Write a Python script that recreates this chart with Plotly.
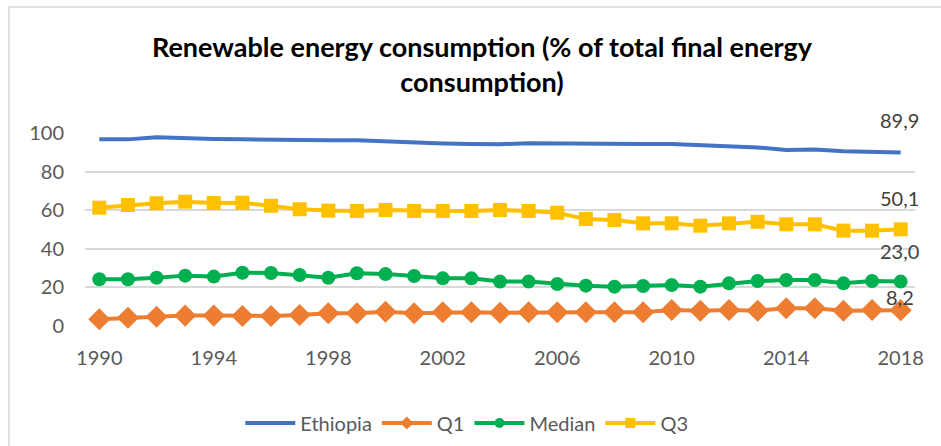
import plotly.graph_objects as go

years = list(range(1990, 2019))

ethiopia = [96.7, 96.7, 97.8, 97.2, 96.9, 96.7, 96.4, 96.2, 96.2, 96.2,
            95.5, 94.8, 94.6, 94.3, 94.2, 94.7, 94.5, 94.2, 94.0, 94.3,
            94.3, 93.6, 93.4, 92.5, 91.2, 91.5, 90.5, 90.1, 89.9]
q1 = [3.5, 4.3, 4.8, 5.4, 5.4, 5.2, 5.2, 5.7, 6.6, 6.6,
      7.4, 6.6, 7.1, 7.1, 6.9, 7.1, 7.1, 7.1, 7.1, 7.1,
      8.3, 7.9, 8.3, 7.9, 9.2, 9.2, 7.9, 8.3, 8.2]
median = [24.2, 24.2, 25.0, 26.1, 25.6, 27.6, 27.5, 26.4, 25.0, 27.3,
          26.9, 25.9, 24.7, 24.7, 23.0, 23.0, 21.8, 20.9, 20.4, 20.7,
          21.2, 20.4, 22.1, 23.3, 23.8, 23.8, 22.1, 23.3, 23.0]
q3 = [61.3, 62.7, 63.6, 64.4, 63.7, 63.9, 62.3, 60.5, 59.8, 59.6,
      60.1, 59.6, 59.6, 59.6, 60.1, 59.6, 58.7, 55.4, 54.9, 53.2,
      53.2, 52.0, 53.2, 54.0, 52.7, 52.7, 49.4, 49.4, 50.1]

x_ticks = [1990, 1994, 1998, 2002, 2006, 2010, 2014, 2018]
y_ticks = [0, 20, 40, 60, 80, 100]

FONT = "Lato"
TEXT = "#595959"

series = [
    ("Ethiopia", ethiopia, "#4472C4", None, 0),
    ("Q1", q1, "#ED7D31", "diamond", 17),
    ("Median", median, "#00B050", "circle", 14),
    ("Q3", q3, "#FFC000", "square", 14),
]

fig = go.Figure()

for name, values, color, symbol, size in series:
    mode = "lines" if symbol is None else "lines+markers"
    fig.add_trace(go.Scatter(
        x=years, y=values, name=name, mode=mode, showlegend=False,
        line=dict(color=color, width=4),
        marker=dict(symbol=symbol or "circle", size=size, color=color),
        cliponaxis=False))

# legend entries with smaller symbols
for name, values, color, symbol, size in series:
    mode = "lines" if symbol is None else "lines+markers"
    fig.add_trace(go.Scatter(
        x=[None], y=[None], name=name, mode=mode,
        line=dict(color=color, width=4),
        marker=dict(symbol=symbol or "circle", size=10, color=color)))

# value labels for the last year of each series
last = [(ethiopia[-1], 32), (q3[-1], 31), (median[-1], 31), (q1[-1], 13)]
for val, shift in last:
    fig.add_annotation(x=years[-1], y=val, text=f"{val:.1f}".replace(".", ","),
                       showarrow=False, yshift=shift, xshift=-1,
                       font=dict(family=FONT, size=20, color="#404040"))

# chart title
fig.add_annotation(xref="paper", yref="paper", x=(482 - 85) / 830, y=1.36,
                   xanchor="center", yanchor="middle", showarrow=False,
                   text="<b>Renewable energy consumption (% of total final energy<br>consumption)</b>",
                   font=dict(family=FONT, size=27, color="black"))

# light frame around the chart area
fig.add_shape(type="rect", xref="paper", yref="paper",
              x0=-0.0916, y0=-1.0, x1=1.2, y1=1.653,
              line=dict(color="#D9D9D9", width=1.5), layer="below")

fig.update_layout(
    width=941, height=446,
    margin=dict(l=85, r=26, t=133, b=120, autoexpand=False),
    paper_bgcolor="white", plot_bgcolor="white",
    font=dict(family=FONT, size=20, color=TEXT),
    xaxis=dict(range=[1989.5, 2018.5], tickmode="array", tickvals=x_ticks,
               showgrid=False, zeroline=False, showline=False, ticks="",
               ticklabelstandoff=18, tickfont=dict(size=20, color=TEXT)),
    yaxis=dict(range=[0, 100], tickmode="array", tickvals=y_ticks,
               showgrid=True, gridcolor="#D9D9D9", gridwidth=1.5,
               zeroline=False, showline=False, ticks="",
               ticklabelstandoff=20, tickfont=dict(size=20, color=TEXT)),
    legend=dict(orientation="h", x=0.46, xanchor="center",
                yref="container", y=1 - 423 / 446, yanchor="middle",
                font=dict(family=FONT, size=20, color=TEXT),
                itemwidth=50, traceorder="normal"),
    showlegend=True,
)

fig.write_html("out.html")
